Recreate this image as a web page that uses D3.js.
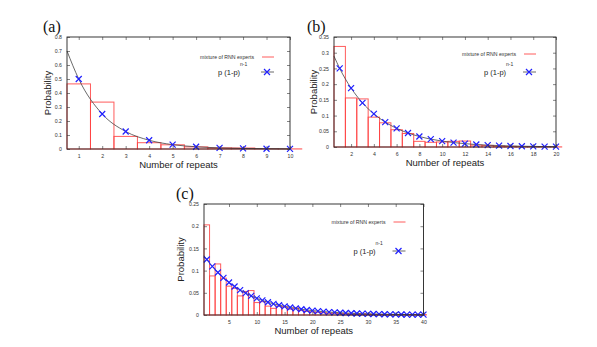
<!DOCTYPE html>
<html><head><meta charset="utf-8">
<script src="https://cdn.jsdelivr.net/npm/d3@7/dist/d3.min.js"></script>
<style>body{margin:0;background:#fff}svg{display:block}</style>
</head><body>
<svg id="chart" width="597" height="347"></svg>
<script>
// ---- data ----
const barsA = [0.465,0.335,0.09,0.045,0.03,0.015,0.008,0.007,0.002,0.001];
const pointsA = [0.5,0.25,0.125,0.0625,0.031,0.016,0.008,0.004,0.002,0.001];
const curveStartA = 0.70;

const barsB = [0.32,0.156,0.153,0.095,0.077,0.055,0.043,0.018,0.015,0.016,0.018,0.019,0.006,0.005,0.003,0.002,0.001,0.001,0.001,0.0005];
const pointsB = [0.25,0.1875,0.1406,0.1055,0.0791,0.0593,0.0445,0.0334,0.025,0.0188,0.0141,0.0106,0.0079,0.0059,0.0045,0.0033,0.0025,0.0019,0.0014,0.0011];
const curveStartB = 0.289;

const barsC = [0.203,0.088,0.115,0.083,0.065,0.06,0.043,0.053,0.055,0.028,0.03,0.02,0.015,0.02,0.018,0.013,0.016,0.01,0.008,0.007,0.006,0.005,0.004,0.004,0.003,0.003,0.002,0.002,0.002,0.002,0.001,0.001,0.001,0.001,0.001,0.001,0.001,0.001,0.001,0.001];
const pointsC = [0.125,0.1094,0.0957,0.0837,0.0733,0.0641,0.0561,0.0491,0.043,0.0376,0.0329,0.0288,0.0252,0.022,0.0193,0.0169,0.0148,0.0129,0.0113,0.0099,0.0087,0.0076,0.0066,0.0058,0.0051,0.0044,0.0039,0.0034,0.003,0.0026,0.0023,0.002,0.0018,0.0015,0.0013,0.0012,0.001,0.0009,0.0008,0.0007];
const curveStartC = 0.1336;

const xTicksA = [1,2,3,4,5,6,7,8,9,10];
const xTicksB = [2,4,6,8,10,12,14,16,18,20];
const xTicksC = [5,10,15,20,25,30,35,40];
const yTicksA = [0,0.1,0.2,0.3,0.4,0.5,0.6,0.7,0.8];
const yTicksB = [0,0.05,0.1,0.15,0.2,0.25,0.3,0.35];
const yTicksC = [0,0.05,0.1,0.15,0.2,0.25];

const legendLabels = ["mixture of RNN experts", "p (1-p)", "n-1"];
const axisLabels = ["Number of repeats", "Probability"];
const panelLetters = ["(a)", "(b)", "(c)"];

const svg = d3.select("#chart");
const sans = "'Liberation Sans', Arial, sans-serif";
const serif = "'Liberation Serif', 'DejaVu Serif', serif";

function panel(cfg) {
  const x = d3.scaleLinear().domain(cfg.xDomain).range([cfg.left, cfg.right]);
  const y = d3.scaleLinear().domain(cfg.yDomain).range([cfg.bottom, cfg.top]);
  const g = svg.append("g");

  // bars
  g.selectAll("rect.bar").data(cfg.bars).enter().append("rect")
    .attr("x", (d,i) => x(i + 0.5))
    .attr("width", (d,i) => x(i + 1.5) - x(i + 0.5))
    .attr("y", d => y(d))
    .attr("height", d => y(0) - y(d))
    .attr("fill", "none")
    .attr("stroke", "#ff4040")
    .attr("stroke-opacity", 0.85)
    .attr("stroke-width", 1);

  // curve
  const cpts = [[cfg.xDomain[0], cfg.curveStart]].concat(cfg.points.map((v,i)=>[i+1, v]));
  const line = d3.line().x(d=>x(d[0])).y(d=>y(d[1])).curve(d3.curveMonotoneX);
  g.append("path").attr("d", line(cpts)).attr("fill","none")
    .attr("stroke","#444").attr("stroke-width",0.8);

  // markers
  const s = 3;
  const mk = (cx, cy) => `M${cx-s},${cy-s}L${cx+s},${cy+s}M${cx-s},${cy+s}L${cx+s},${cy-s}`;
  g.selectAll("path.pt").data(cfg.points).enter().append("path")
    .attr("d", (d,i) => mk(x(i+1), y(d)))
    .attr("stroke","#2020ff").attr("stroke-width",1.2).attr("fill","none");

  // frame
  g.append("rect").attr("x",cfg.left).attr("y",cfg.top)
    .attr("width",cfg.right-cfg.left).attr("height",cfg.bottom-cfg.top)
    .attr("fill","none").attr("stroke","#222").attr("stroke-width",0.9);

  // axes (inward ticks, mirrored)
  const fmt = d => d === 0 ? "0" : String(d);
  const ax = d3.axisBottom(x).tickValues(cfg.xTicks).tickSize(-3).tickPadding(5).tickFormat(fmt);
  const gx = g.append("g").attr("transform",`translate(0,${cfg.bottom})`).call(ax);
  const axT = d3.axisTop(x).tickValues(cfg.xTicks).tickSize(-3).tickFormat("");
  const gxt = g.append("g").attr("transform",`translate(0,${cfg.top})`).call(axT);
  const ay = d3.axisLeft(y).tickValues(cfg.yTicks).tickSize(-3).tickPadding(5).tickFormat(fmt);
  const gy = g.append("g").attr("transform",`translate(${cfg.left},0)`).call(ay);
  const ayR = d3.axisRight(y).tickValues(cfg.yTicks).tickSize(-3).tickFormat("");
  const gyr = g.append("g").attr("transform",`translate(${cfg.right},0)`).call(ayR);
  [gx,gxt,gy,gyr].forEach(a => {
    a.select(".domain").remove();
    a.selectAll("line").attr("stroke","#333").attr("stroke-width",0.6);
    a.selectAll("text").attr("font-family",sans).attr("font-size",5.2).attr("fill","#333");
  });

  // axis labels
  g.append("text").attr("x",(cfg.left+cfg.right)/2).attr("y",cfg.bottom+19)
    .attr("text-anchor","middle").attr("font-family",sans).attr("font-size",9.5).attr("fill","#222")
    .text(axisLabels[0]);
  g.append("text").attr("transform",`translate(${cfg.ylabX},${(cfg.top+cfg.bottom)/2}) rotate(-90)`)
    .attr("text-anchor","middle").attr("font-family",sans).attr("font-size",9.5).attr("fill","#222")
    .text(axisLabels[1]);

  // panel letter
  g.append("text").attr("x",cfg.letterX).attr("y",cfg.top-5)
    .attr("font-family",serif).attr("font-size",16).attr("fill","#111").text(cfg.letter);

  // legend
  const lx = cfg.right - cfg.legRight;
  g.append("text").attr("x",lx-8).attr("y",cfg.top+cfg.leg1+2)
    .attr("text-anchor","end").attr("font-family",sans).attr("font-size",5.2).attr("fill","#333")
    .text(legendLabels[0]);
  g.append("line").attr("x1",lx).attr("x2",lx+12).attr("y1",cfg.top+cfg.leg1).attr("y2",cfg.top+cfg.leg1)
    .attr("stroke","#ff4040").attr("stroke-opacity",0.85).attr("stroke-width",1);
  const t2 = g.append("text").attr("x",lx+cfg.pOff).attr("y",cfg.top+cfg.leg2+3)
    .attr("text-anchor","start").attr("font-family",sans).attr("font-size",7.5).attr("fill","#222");
  t2.append("tspan").text(legendLabels[1]);
  t2.append("tspan").attr("dy",-9).attr("font-size",5).attr("fill","#333").text(legendLabels[2]);
  g.append("line").attr("x1",lx-1).attr("x2",lx+12).attr("y1",cfg.top+cfg.leg2).attr("y2",cfg.top+cfg.leg2)
    .attr("stroke","#444").attr("stroke-width",0.8);
  g.append("path").attr("d",mk(lx+5, cfg.top+cfg.leg2))
    .attr("stroke","#2020ff").attr("stroke-width",1.2).attr("fill","none");
}

panel({letter:panelLetters[0], left:67, right:290, top:37, bottom:149,
  xDomain:[0.5,10], yDomain:[0,0.8], bars:barsA, points:pointsA, curveStart:curveStartA,
  xTicks:xTicksA, yTicks:yTicksA, ylabX:51, letterX:43, legRight:28, leg1:20, leg2:35, pOff:-44});
panel({letter:panelLetters[1], left:334, right:556, top:37, bottom:147,
  xDomain:[0.5,20], yDomain:[0,0.35], bars:barsB, points:pointsB, curveStart:curveStartB,
  xTicks:xTicksB, yTicks:yTicksB, ylabX:317, letterX:307, legRight:32, leg1:17, leg2:35, pOff:-40});
panel({letter:panelLetters[2], left:204, right:423.5, top:204, bottom:315,
  xDomain:[0.5,40], yDomain:[0,0.25], bars:barsC, points:pointsC, curveStart:curveStartC,
  xTicks:xTicksC, yTicks:yTicksC, ylabX:184, letterX:176, legRight:30, leg1:18, leg2:47, pOff:-40});
</script>
</body></html>
